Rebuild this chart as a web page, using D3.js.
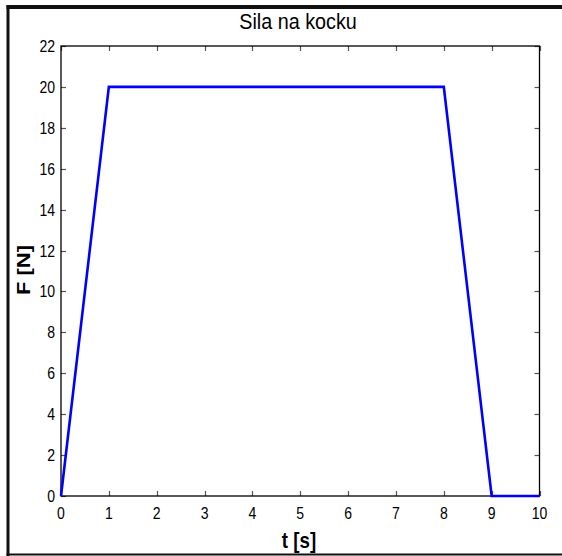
<!DOCTYPE html>
<html>
<head>
<meta charset="utf-8">
<script src="https://cdn.jsdelivr.net/npm/d3@7"></script>
<style>
  html, body { margin: 0; padding: 0; background: #fff; }
  svg { display: block; }
  text { font-family: Arial, "Liberation Sans", sans-serif; fill: #000; }
</style>
</head>
<body>
<svg id="chart" width="562" height="556"></svg>
<script>
// Force on the block over time
const timeS = [0, 1, 8, 9, 10];
const forceN = [0, 20, 20, 0, 0];
const xTicks = [0, 1, 2, 3, 4, 5, 6, 7, 8, 9, 10];
const yTicks = [0, 2, 4, 6, 8, 10, 12, 14, 16, 18, 20, 22];
const titleText = "Sila na kocku";
const xLabelText = "t [s]";
const yLabelText = "F [N]";

const svg = d3.select("#chart");
const W = 562, H = 556;
const plot = { left: 61, right: 539.5, top: 46, bottom: 496 };
const squeeze = 0.85; // narrow letterforms

svg.append("rect").attr("width", W).attr("height", H).attr("fill", "#fff");

// outer frame (left, top, bottom edges)
const frame = svg.append("g").attr("stroke", "#111").attr("fill", "none");
frame.append("line").attr("x1", 8).attr("x2", 8).attr("y1", 5).attr("y2", 556).attr("stroke-width", 3);
frame.append("line").attr("x1", 6.5).attr("x2", W).attr("y1", 7).attr("y2", 7).attr("stroke-width", 4);
frame.append("line").attr("x1", 6.5).attr("x2", W).attr("y1", 554.5).attr("y2", 554.5).attr("stroke-width", 2);

const x = d3.scaleLinear().domain([0, 10]).range([plot.left, plot.right]);
const y = d3.scaleLinear().domain([0, 22]).range([plot.bottom, plot.top]);

const tickLen = 5;
const tickColor = "#555";

// ticks pointing inward on all four sides
const tg = svg.append("g").attr("stroke", tickColor).attr("stroke-width", 1.2);
xTicks.forEach(t => {
  const px = Math.round(x(t)) + 0.5;
  tg.append("line").attr("x1", px).attr("x2", px).attr("y1", plot.bottom).attr("y2", plot.bottom - tickLen);
  tg.append("line").attr("x1", px).attr("x2", px).attr("y1", plot.top).attr("y2", plot.top + tickLen);
});
yTicks.forEach(t => {
  const py = Math.round(y(t)) + 0.5;
  tg.append("line").attr("x1", plot.left).attr("x2", plot.left + tickLen).attr("y1", py).attr("y2", py);
  tg.append("line").attr("x1", plot.right).attr("x2", plot.right - tickLen).attr("y1", py).attr("y2", py);
});

// tick labels
const lbl = svg.append("g").style("font-size", "16.5px");
xTicks.forEach(t => {
  lbl.append("text")
    .attr("transform", `translate(${x(t)},518.5) scale(${squeeze},1)`)
    .attr("text-anchor", "middle")
    .text(t);
});
yTicks.forEach(t => {
  lbl.append("text")
    .attr("transform", `translate(55,${y(t) + 6}) scale(${squeeze},1)`)
    .attr("text-anchor", "end")
    .text(t);
});

// axes box
svg.append("rect")
  .attr("x", plot.left).attr("y", plot.top)
  .attr("width", plot.right - plot.left).attr("height", plot.bottom - plot.top)
  .attr("fill", "none").attr("stroke", "#000").attr("stroke-width", 1.3);

// force curve
const line = d3.line().x((d, i) => x(timeS[i])).y(d => y(d));
svg.append("path")
  .datum(forceN)
  .attr("d", line)
  .attr("fill", "none")
  .attr("stroke", "#0000ff")
  .attr("stroke-width", 2.6)
  .attr("stroke-linejoin", "miter");

// title
svg.append("text")
  .attr("transform", `translate(298,28.5) scale(0.92,1)`)
  .attr("text-anchor", "middle")
  .style("font-size", "21.5px")
  .text(titleText);

// axis labels
svg.append("text")
  .attr("transform", `translate(299,548) scale(${squeeze},1)`)
  .attr("text-anchor", "middle")
  .style("font-size", "22px")
  .style("font-weight", "bold")
  .text(xLabelText);

svg.append("text")
  .attr("transform", `translate(30,270) scale(${squeeze},1) rotate(-90)`)
  .attr("text-anchor", "middle")
  .style("font-size", "22px")
  .style("font-weight", "bold")
  .text(yLabelText);
</script>
</body>
</html>
